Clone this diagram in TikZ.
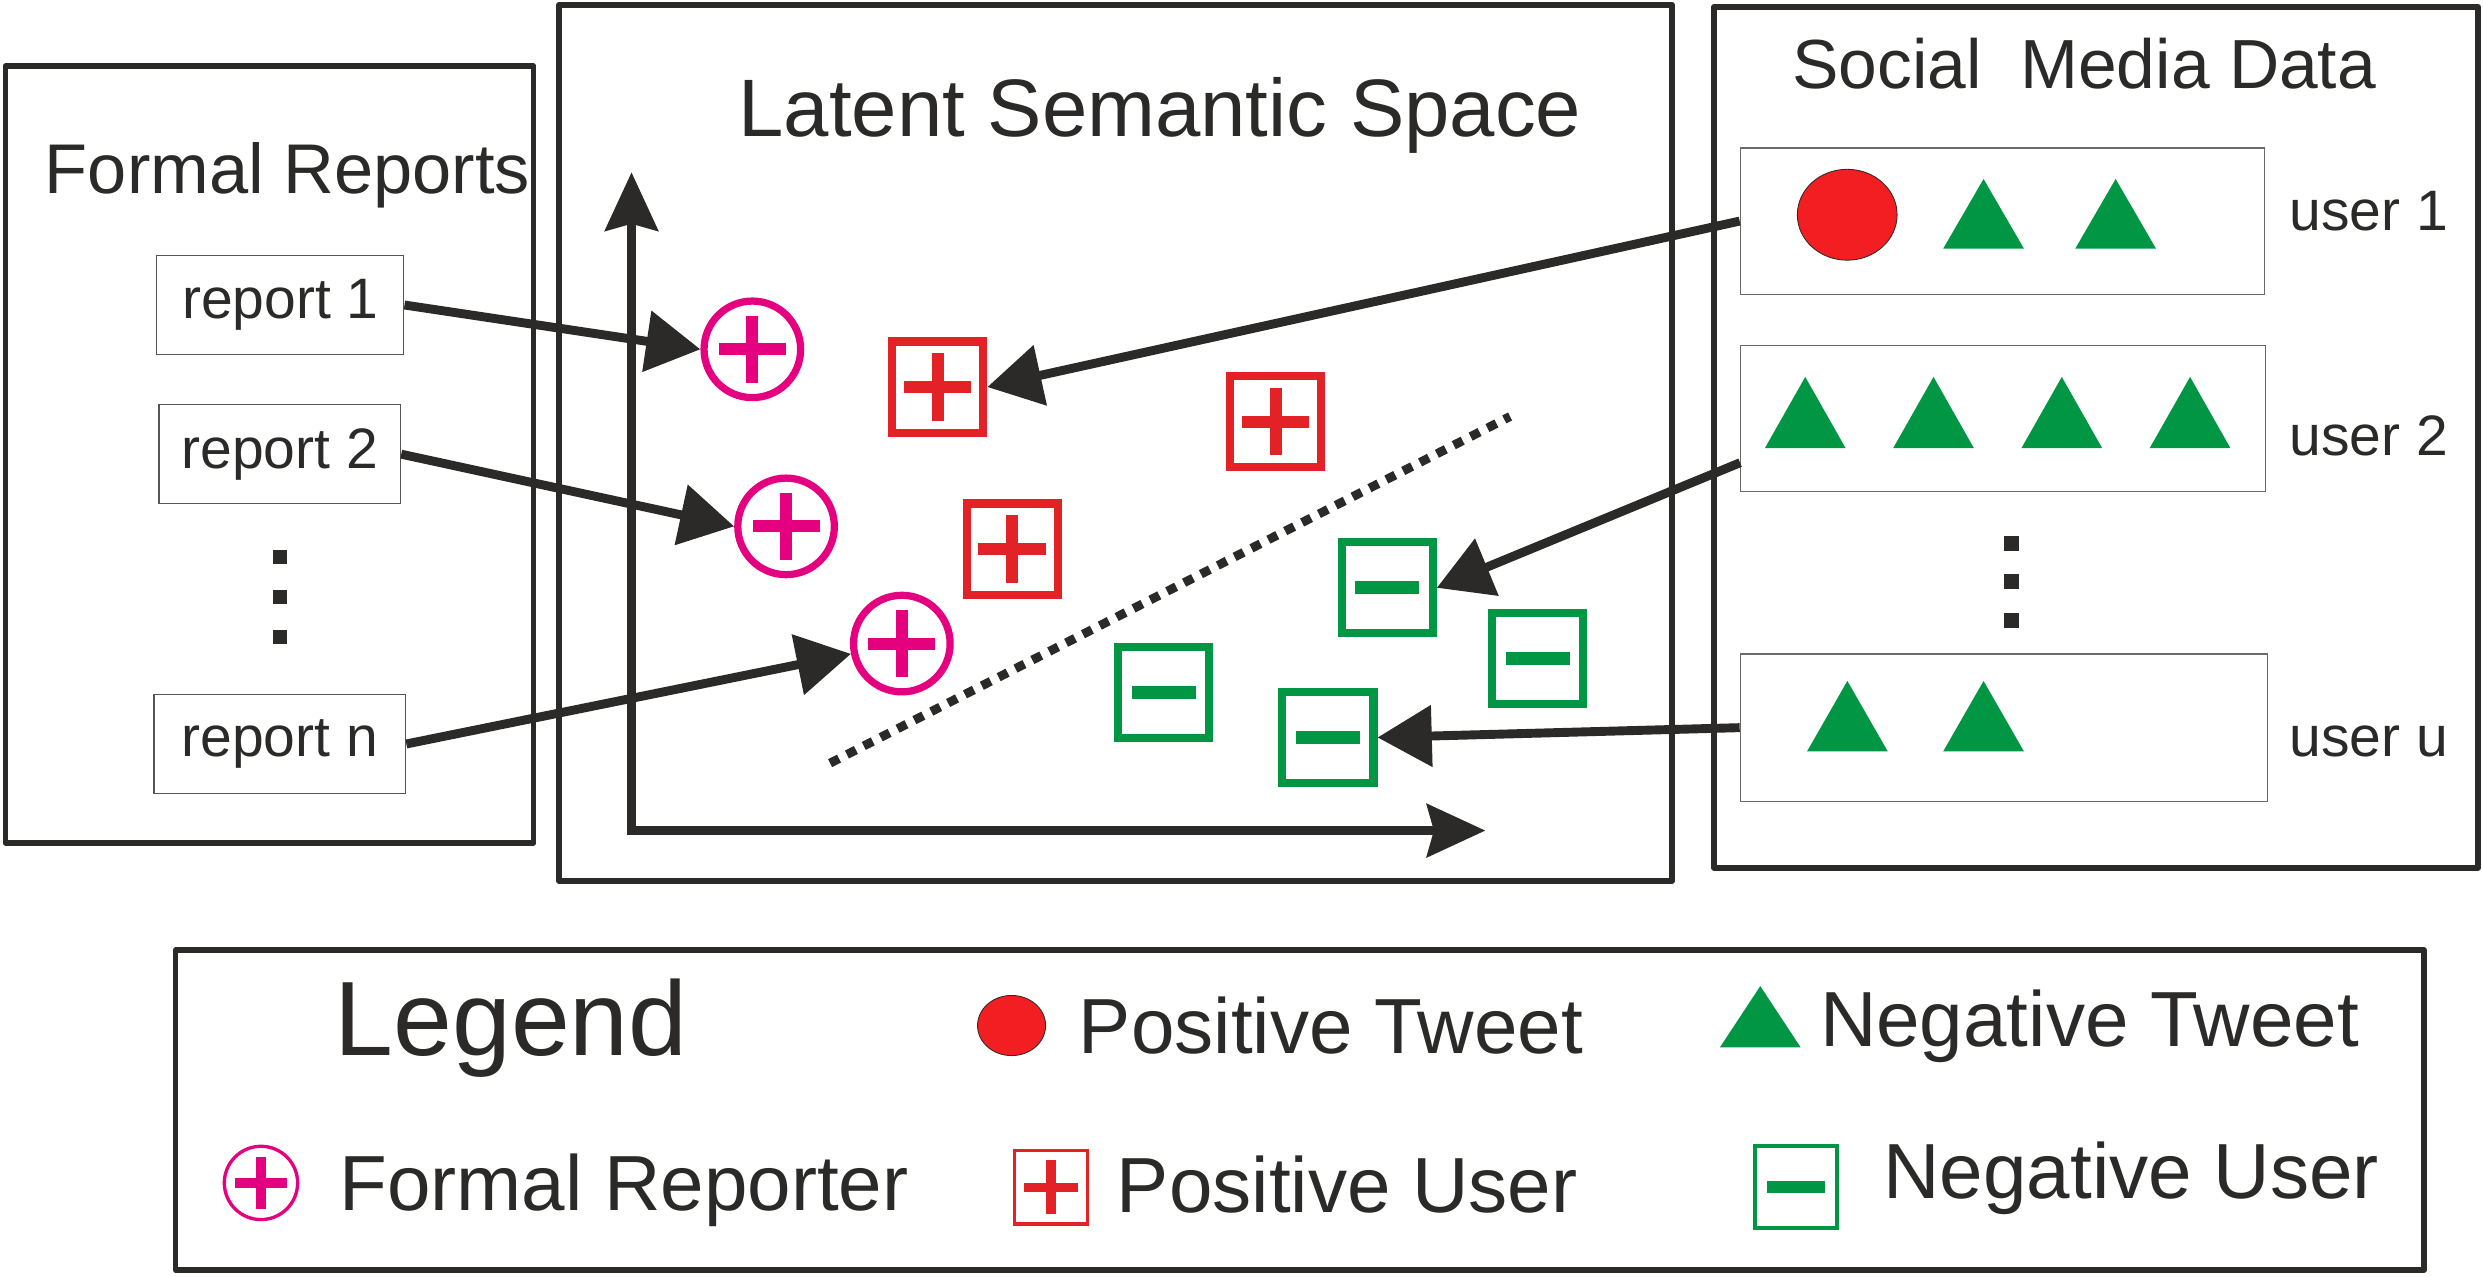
\documentclass[tikz,border=0pt]{standalone}
\usepackage{fontspec}
\setmainfont{Liberation Sans}
\usepackage{tikz}
\usetikzlibrary{arrows.meta}

\definecolor{inkdark}{RGB}{43,42,41}
\definecolor{repmag}{RGB}{228,0,127}
\definecolor{posred}{RGB}{227,34,39}
\definecolor{tweetred}{RGB}{242,30,34}
\definecolor{neggreen}{RGB}{0,150,68}

\begin{document}
\begin{tikzpicture}[
    x=0.02cm, y=-0.02cm, % 按像素坐标布局,y向下
    every node/.style={inner sep=0pt, text=inkdark},
    panel/.style={draw=inkdark, line width=2pt, line join=round}, % 大框
    itembox/.style={draw=inkdark!80, line width=0.5pt, minimum height=1.25cm, font=\fontsize{20.5}{24}\selectfont},
    userbox/.style={draw=inkdark!70, line width=0.5pt},
    title/.style={anchor=base west, font=\fontsize{25.3}{30}\selectfont},
    lbl/.style={anchor=base west, font=\fontsize{20.5}{24}\selectfont},
    legtext/.style={anchor=base west, font=\fontsize{28.1}{33}\selectfont},
    link/.style={inkdark, line width=3.2pt, -{Triangle[length=19.5pt, width=21.5pt]}}, % 映射箭头
    axis/.style={inkdark, line width=3.1pt, {Stealth[length=21pt, width=19pt, inset=2.5pt]}-{Stealth[length=21pt, width=19pt, inset=2.5pt]}},
    sepline/.style={inkdark, line width=3.2pt, dash pattern=on 3.6pt off 3.2pt}, % 分界虚线
    plussign/.style n args={3}{path picture={
        \draw[#1, line width=#3] ([xshift=-#2]path picture bounding box.center) -- ([xshift=#2]path picture bounding box.center)
            ([yshift=-#2]path picture bounding box.center) -- ([yshift=#2]path picture bounding box.center);}},
    minussign/.style n args={3}{path picture={
        \draw[#1, line width=#3] ([xshift=-#2]path picture bounding box.center) -- ([xshift=#2]path picture bounding box.center);}},
    reporter/.style={circle, draw=repmag, line width=2.6pt, minimum size=1.22cm, plussign={repmag}{0.424cm}{4.3pt}},
    posuser/.style={rectangle, draw=posred, line width=2.9pt, minimum size=1.15cm, plussign={posred}{0.424cm}{4.3pt}},
    neguser/.style={rectangle, draw=neggreen, line width=2.9pt, minimum size=1.15cm, minussign={neggreen}{0.404cm}{4.7pt}},
    smallrep/.style={circle, draw=repmag, line width=1.2pt, minimum size=0.926cm, plussign={repmag}{0.33cm}{3.3pt}},
    smallpos/.style={rectangle, draw=posred, line width=1.2pt, minimum size=0.926cm, plussign={posred}{0.34cm}{3.5pt}},
    smallneg/.style={rectangle, draw=neggreen, line width=1.45pt, minimum size=1.03cm, minussign={neggreen}{0.365cm}{4.3pt}},
    tweetdot/.style={fill=tweetred, draw=inkdark, line width=0.3pt},
    negtweet/.style={fill=neggreen}
]
    \useasboundingbox (0,0) rectangle (1568,806);

    % 1. 四个大框
    \node[panel, minimum width=6.674cm, minimum height=9.81cm] (formal) at (170.2,287) {};
    \node[panel, minimum width=14.06cm, minimum height=11.07cm] (latent) at (704.5,279.7) {};
    \node[panel, minimum width=9.654cm, minimum height=10.874cm] (social) at (1323.65,276.15) {};
    \node[panel, minimum width=28.4cm, minimum height=4.04cm] (legend) at (820.75,701) {};

    % 标题
    \node[title] (formaltitle) at (28,122.5) {Formal Reports};
    \node[title, font=\fontsize{29.3}{34}\selectfont] (latenttitle) at (466,86.1) {Latent Semantic Space};
    \node[title, font=\fontsize{25}{30}\selectfont] (socialtitle) at (1131.5,55.7) {Social\ \ Media Data};

    % 2. 正式报告
    \node[itembox, minimum width=3.12cm] (r1) at (177,192.6) {report 1};
    \node[itembox, minimum width=3.05cm] (r2) at (176.7,286.8) {report 2};
    \node[itembox, minimum width=3.18cm] (rn) at (176.7,469.8) {report n};
    \foreach \y in {352,377,402} {
        \fill[inkdark] (172.15,\y-4.45) rectangle ++(8.9,8.9);
    }

    % 3. 社交媒体用户
    \node[userbox, minimum width=6.62cm, minimum height=1.848cm] (u1) at (1264.5,139.6) {};
    \node[userbox, minimum width=6.63cm, minimum height=1.84cm] (u2) at (1265,264.2) {};
    \node[userbox, minimum width=6.66cm, minimum height=1.86cm] (uu) at (1265.5,459.5) {};
    \node[lbl] (u1lbl) at (1445.6,145.6) {user 1};
    \node[lbl] (u2lbl) at (1445.6,287.5) {user 2};
    \node[lbl] (uulbl) at (1445.6,478) {user u};
    \foreach \y in {343,367,392} {
        \fill[inkdark] (1265.3,\y-4.75) rectangle ++(9.5,9.5);
    }
    \draw[tweetdot] (1166.5,135.6) ellipse [x radius=31.5, y radius=28.7];
    \foreach \x/\yt/\yb in {1252.6/113/157, 1336/113/157,
                            1140/238/283, 1221/238/283, 1302/238/283, 1383/238/283,
                            1166.6/430/474.5, 1252.6/430/474.5, 1111.6/622.7/661.4} {
        \fill[negtweet] (\x-25.5,\yb) -- (\x+25.5,\yb) -- (\x,\yt) -- cycle;
    }

    % 4. 潜在语义空间:坐标轴与分界线
    \coordinate (o) at (398.8,524.5);
    \coordinate (ytop) at (398.8,108.8);
    \coordinate (xend) at (938,524.5);
    \draw[axis] (ytop) -- (o) -- (xend);
    \coordinate (sepa) at (524.2,481.9);
    \coordinate (sepb) at (953.6,263);
    \draw[sepline] (sepa) -- (sepb);

    % 报告者与用户
    \node[reporter] (c1) at (475.1,220.6) {};
    \node[reporter] (c2) at (496.4,332.4) {};
    \node[reporter] (c3) at (569.5,406.4) {};
    \node[posuser] (s1) at (592.2,244.4) {};
    \node[posuser] (s2) at (805.7,266.2) {};
    \node[posuser] (s3) at (639.1,346.7) {};
    \node[neguser] (n1) at (876,371.2) {};
    \node[neguser] (n2) at (971,415.7) {};
    \node[neguser] (n3) at (735,437.4) {};
    \node[neguser] (n4) at (838.6,465.7) {};

    % 5. 映射箭头
    \draw[link] (r1.east) -- (c1.west);
    \draw[link] (r2.east) -- (c2.west);
    \draw[link] (rn.east) -- (c3);
    \draw[link] (u1.west) -- (s1.east);
    \draw[link] ([yshift=-0.56cm]u2.west) -- (n1.east);
    \draw[link] (uu.west) -- (n4.east);

    % 6. 图例
    \node[title, font=\fontsize{38}{45}\selectfont] (legendtitle) at (211,666.5) {Legend};
    \draw[tweetdot] (638.8,647.6) ellipse [x radius=21.5, y radius=19];
    \node[legtext] (lgpt) at (681,665.5) {Positive Tweet};
    \node[legtext] (lgnt) at (1149,661) {Negative Tweet};
    \node[smallrep] (lgrep) at (164.8,747) {};
    \node[legtext] (lgfr) at (214,764.5) {Formal Reporter};
    \node[smallpos] (lgpos) at (663.8,749.8) {};
    \node[legtext] (lgpu) at (705,765.5) {Positive User};
    \node[smallneg] (lgneg) at (1134.2,749.6) {};
    \node[legtext] (lgnu) at (1189,757) {Negative User};

\end{tikzpicture}
\end{document}
